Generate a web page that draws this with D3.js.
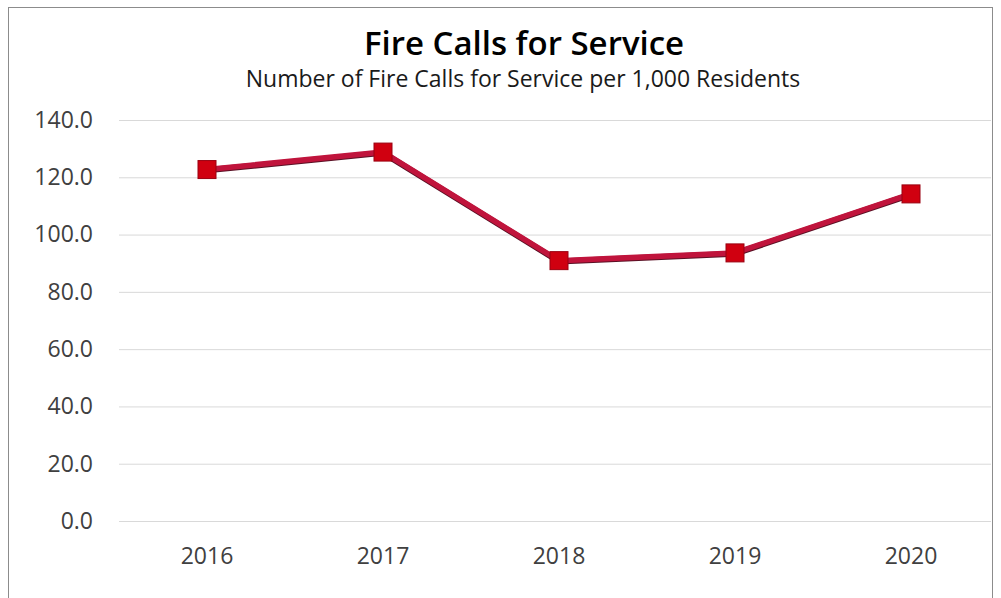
<!DOCTYPE html>
<html>
<head>
<meta charset="utf-8">
<script src="https://cdn.jsdelivr.net/npm/d3@7"></script>
<style>
  html, body { margin: 0; padding: 0; background: #fff; }
  svg { display: block; }
  text { font-family: "Open Sans", "Noto Sans", sans-serif; }
</style>
</head>
<body>
<svg id="chart" width="1001" height="598"></svg>
<script>
// Fire calls per 1,000 residents, by year
const years = ["2016", "2017", "2018", "2019", "2020"];
const callsPer1000 = [122.7, 128.8, 90.9, 93.6, 114.2];
const yTicks = [0, 20, 40, 60, 80, 100, 120, 140];

const plot = { left: 119, right: 999, top: 120, bottom: 521 };

const svg = d3.select("#chart");

// Frame around the chart
svg.append("rect")
  .attr("x", 8.5).attr("y", 7.5)
  .attr("width", 984).attr("height", 600)
  .attr("fill", "#fff")
  .attr("stroke", "#8c8c8c")
  .attr("stroke-width", 1);

const x = d3.scaleBand().domain(years).range([plot.left, plot.right]);
const y = d3.scaleLinear().domain([0, 140]).range([plot.bottom, plot.top]);

svg.append("clipPath").attr("id", "plotclip")
  .append("rect").attr("x", 9).attr("y", 8).attr("width", 982).attr("height", 590);

const g = svg.append("g").attr("clip-path", "url(#plotclip)");

// Horizontal gridlines
g.append("g")
  .attr("transform", `translate(${plot.left},0)`)
  .call(d3.axisLeft(y).tickValues(yTicks).tickSize(-(plot.right - plot.left)).tickFormat(""))
  .call(s => s.select(".domain").remove())
  .call(s => s.selectAll("line").attr("stroke", "#d9d9d9").attr("stroke-width", 1));

const labelFont = "23px";

// Y axis labels
svg.append("g")
  .attr("transform", `translate(${plot.left},0)`)
  .call(d3.axisLeft(y).tickValues(yTicks).tickSize(0).tickPadding(26).tickFormat(d3.format(".1f")))
  .call(s => s.select(".domain").remove())
  .call(s => s.selectAll("text")
    .attr("fill", "#404040")
    .style("font-size", labelFont)
    .style("font-family", "'Open Sans', sans-serif"));

// X axis labels
svg.append("g")
  .attr("transform", `translate(0,${plot.bottom})`)
  .call(d3.axisBottom(x).tickSize(0).tickPadding(27))
  .call(s => s.select(".domain").remove())
  .call(s => s.selectAll("text")
    .attr("fill", "#404040")
    .style("font-size", labelFont)
    .style("font-family", "'Open Sans', sans-serif"));

const pts = years.map((yr, i) => ({ yr, v: callsPer1000[i] }));
const cx = d => x(d.yr) + x.bandwidth() / 2;

const line = d3.line().x(cx).y(d => y(d.v));

// Dark underlay gives the line its edge
g.append("path").datum(pts)
  .attr("d", line)
  .attr("fill", "none")
  .attr("stroke", "#5a1024")
  .attr("stroke-width", 6)
  .attr("stroke-linejoin", "round")
  .attr("transform", "translate(0,0.8)");

g.append("path").datum(pts)
  .attr("d", line)
  .attr("fill", "none")
  .attr("stroke", "#c0143c")
  .attr("stroke-width", 5.5)
  .attr("stroke-linejoin", "round");

// Square markers
const ms = 18;
g.selectAll("rect.marker").data(pts).enter().append("rect")
  .attr("class", "marker")
  .attr("x", d => cx(d) - ms / 2)
  .attr("y", d => y(d.v) - ms / 2)
  .attr("width", ms).attr("height", ms)
  .attr("fill", "#d00010")
  .attr("stroke", "#9a0010")
  .attr("stroke-width", 1);

// Titles
svg.append("text")
  .attr("x", 524).attr("y", 55)
  .attr("text-anchor", "middle")
  .attr("fill", "#000")
  .style("font-size", "33px")
  .style("font-weight", "600")
  .text("Fire Calls for Service");

svg.append("text")
  .attr("x", 523).attr("y", 87)
  .attr("text-anchor", "middle")
  .attr("fill", "#1a1a1a")
  .style("font-size", "23px")
  .text("Number of Fire Calls for Service per 1,000 Residents");
</script>
</body>
</html>
